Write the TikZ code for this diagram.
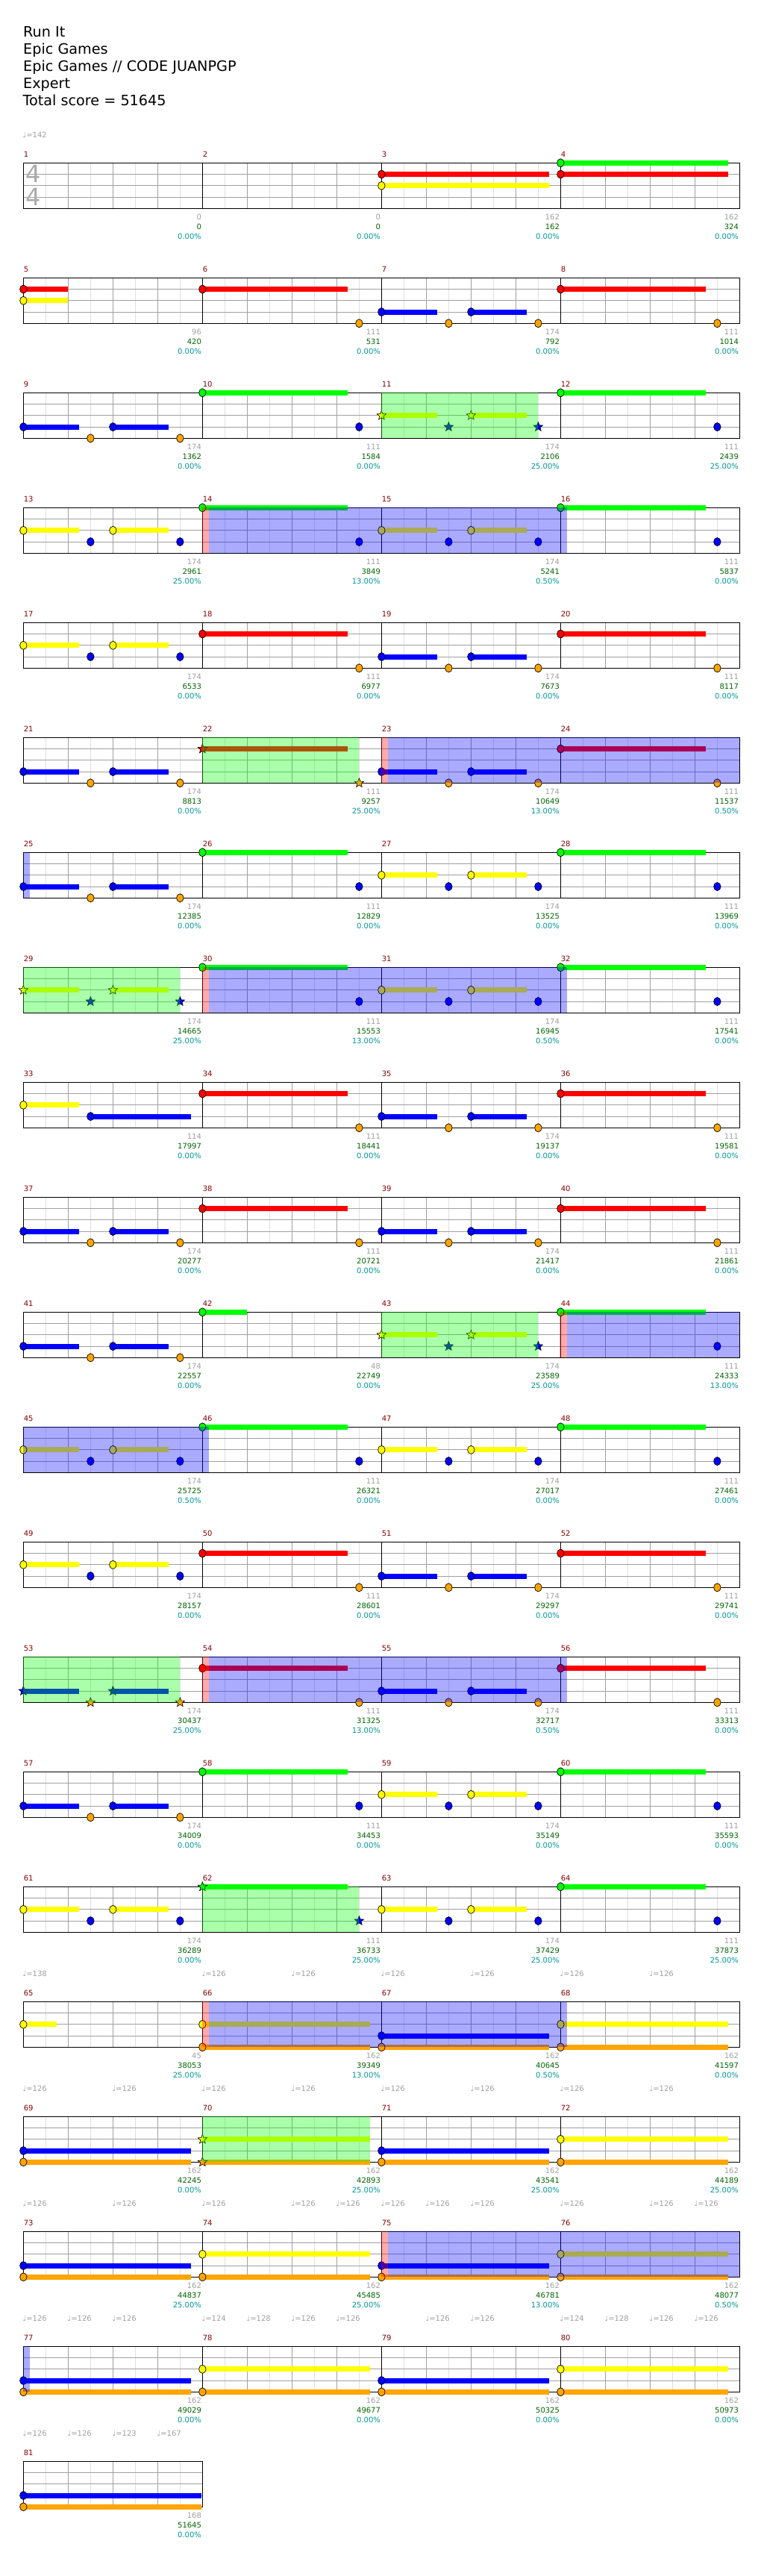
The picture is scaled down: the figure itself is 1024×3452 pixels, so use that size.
\documentclass[tikz,border=0pt]{standalone}
\usepackage{fontspec}
\setmainfont{DejaVu Sans}
\usetikzlibrary{shapes.geometric}
\definecolor{cG}{RGB}{0,255,0}
\definecolor{cR}{RGB}{255,0,0}
\definecolor{cY}{RGB}{255,255,0}
\definecolor{cB}{RGB}{0,0,255}
\definecolor{cO}{RGB}{255,165,0}
\definecolor{cLight}{RGB}{224,224,224}
\definecolor{cMid}{RGB}{160,160,160}
\definecolor{cGr}{RGB}{160,160,160}
\definecolor{cSc}{RGB}{0,100,0}
\definecolor{cPc}{RGB}{0,150,150}
\definecolor{cNum}{RGB}{139,0,0}
\definecolor{cTS}{RGB}{170,170,170}
\newcount\starcnt
\newcommand\MSet[1]{%
 \pgfmathtruncatemacro\mr{(#1-1)/4}%
 \pgfmathtruncatemacro\mc{#1-1-4*\mr}%
 \pgfmathsetmacro\mX{31.35+\mc*240}%
 \pgfmathsetmacro\mT{218.3+\mr*154}}
\newcommand\LaneCol[1]{\ifcase#1\relax\def\nc{cG}\or\def\nc{cR}\or\def\nc{cY}\or\def\nc{cB}\or\def\nc{cO}\fi}
% note: measure, lane, beat, sustain
\newcommand\Nt[4]{%
 \MSet{#1}\LaneCol{#2}%
 \pgfmathsetmacro\nx{\mX+#3*60}%
 \pgfmathsetmacro\ny{\mT+#2*15.25}%
 \ifdim#4pt>0pt \fill[\nc] (\nx,\ny-3.5) rectangle ++(#4*60,7);\fi
 \draw[fill=\nc,line width=0.7] (\nx,\ny) ellipse[x radius=4.75,y radius=5.5];}
\newcommand\St[4]{%
 \MSet{#1}\LaneCol{#2}%
 \pgfmathsetmacro\nx{\mX+#3*60}%
 \pgfmathsetmacro\ny{\mT+#2*15.25}%
 \ifdim#4pt>0pt \fill[\nc] (\nx,\ny-3.5) rectangle ++(#4*60,7);\fi
 \global\advance\starcnt by 1
 \node[spnote,fill=\nc] (star\the\starcnt) at (\nx,\ny) {};}
\newcommand\pBO[2]{#1{#2}{3}{0}{1.24}#1{#2}{4}{1.5}{0}#1{#2}{3}{2}{1.24}#1{#2}{4}{3.5}{0}}
\newcommand\pYB[2]{#1{#2}{2}{0}{1.24}#1{#2}{3}{1.5}{0}#1{#2}{2}{2}{1.24}#1{#2}{3}{3.5}{0}}
\newcommand\pG[2]{#1{#2}{0}{0}{3.25}#1{#2}{3}{3.5}{0}}
\newcommand\pR[2]{#1{#2}{1}{0}{3.25}#1{#2}{4}{3.5}{0}}
\newcommand\pL[3]{#1{#2}{#3}{0}{3.74}#1{#2}{4}{0}{3.74}}
\newcommand\Ov[5]{\MSet{#2}\pgfmathsetmacro\xa{\mX+#3*60}\MSet{#4}\pgfmathsetmacro\xb{\mX+#5*60}%
 \fill[#1,fill opacity=0.3333] (\xa,\mT) rectangle (\xb,\mT+61);}
\newcommand\Lab[4]{\MSet{#1}\pgfmathsetmacro\xe{\mX+238.8}%
 \node[lbl,text=cGr,anchor=base east] (lg#1) at (\xe,\mT+76.35) {#2};
 \node[lbl,text=cSc,anchor=base east] (ls#1) at (\xe,\mT+89.35) {#3};
 \node[lbl,text=cPc,anchor=base east] (lp#1) at (\xe,\mT+102.35) {#4\%};}
\newcommand\Tmp[3]{\MSet{#1}\pgfmathsetmacro\xt{\mX+#2*60-1}%
 \node[lbl,text=cGr,anchor=base west] (tm#1x#2) at (\xt,\mT-33.7) {♩=#3};}
\newcommand\MNum[1]{\MSet{#1}\node[lbl,text=cNum,anchor=base west] (mn#1) at (\mX+0.3,\mT-8.05) {#1};}
\newcommand\Staff[2]{%
 \pgfmathsetmacro\sT{218.3+#1*154}%
 \pgfmathsetmacro\sB{\sT+61}%
 \pgfmathsetmacro\sE{31.35+#2*240}%
 \pgfmathtruncatemacro\nm{#2-1}%
 \foreach \j in {0,...,\nm}{\foreach \q in {1,3,5,7}{\draw[cLight,line width=0.8] ({31.35+\j*240+\q*30},\sT) -- ++(0,61);}}%
 \foreach \j in {0,...,\nm}{\foreach \q in {2,4,6}{\draw[cMid,line width=0.8] ({31.35+\j*240+\q*30},\sT) -- ++(0,61);}}%
 \foreach \h in {1,2,3}{\draw[cMid,line width=0.8] (31.35,{\sT+\h*15.25}) -- (\sE,{\sT+\h*15.25});}%
 \foreach \j in {0,...,\nm}{\draw[black,line width=0.8] ({31.35+\j*240},\sT) -- ++(0,61);}%
 \draw[black,line width=1] (31.35,\sT) rectangle (\sE,\sB);}
\begin{document}
\begin{tikzpicture}[x=1pt,y=-1pt,
 lbl/.style={inner sep=0,font=\fontsize{10}{12}\selectfont},
 ttl/.style={inner sep=0,anchor=base west,font=\fontsize{19.2}{23}\selectfont},
 spnote/.style={star,star points=5,star point ratio=2.3,minimum size=13pt,inner sep=0,draw=black,line width=0.6}]
\useasboundingbox[fill=white] (0,0) rectangle (1024,3452);
% title
\node[ttl] (t1) at (31,49.3) {Run It};
\node[ttl] (t2) at (31,72.3) {Epic Games};
\node[ttl] (t3) at (31,95.3) {Epic Games // CODE JUANPGP};
\node[ttl] (t4) at (31,118.3) {Expert};
\node[ttl] (t5) at (30.5,141.3) {Total score = 51645};
% staves
\foreach \r in {0,...,19}{\Staff{\r}{4}}
\Staff{20}{1}
\node[inner sep=0,text=cTS,font=\fontsize{32}{32}\selectfont] (ts1) at (44.5,233.3) {4};
\node[inner sep=0,text=cTS,font=\fontsize{32}{32}\selectfont] (ts2) at (44.5,263.5) {4};
% notes
\Nt{3}{1}{0}{3.74}\Nt{3}{2}{0}{3.74}
\Nt{4}{0}{0}{3.74}\Nt{4}{1}{0}{3.74}
\Nt{5}{1}{0}{1}\Nt{5}{2}{0}{1}
\pR\Nt{6}\pBO\Nt{7}\pR\Nt{8}
\pBO\Nt{9}\pG\Nt{10}\pYB\St{11}\pG\Nt{12}
\pYB\Nt{13}\pG\Nt{14}\pYB\Nt{15}\pG\Nt{16}
\pYB\Nt{17}\pR\Nt{18}\pBO\Nt{19}\pR\Nt{20}
\pBO\Nt{21}\pR\St{22}\pBO\Nt{23}\pR\Nt{24}
\pBO\Nt{25}\pG\Nt{26}\pYB\Nt{27}\pG\Nt{28}
\pYB\St{29}\pG\Nt{30}\pYB\Nt{31}\pG\Nt{32}
\Nt{33}{2}{0}{1.24}\Nt{33}{3}{1.5}{2.24}\pR\Nt{34}\pBO\Nt{35}\pR\Nt{36}
\pBO\Nt{37}\pR\Nt{38}\pBO\Nt{39}\pR\Nt{40}
\pBO\Nt{41}\Nt{42}{0}{0}{1}\pYB\St{43}\pG\Nt{44}
\pYB\Nt{45}\pG\Nt{46}\pYB\Nt{47}\pG\Nt{48}
\pYB\Nt{49}\pR\Nt{50}\pBO\Nt{51}\pR\Nt{52}
\pBO\St{53}\pR\Nt{54}\pBO\Nt{55}\pR\Nt{56}
\pBO\Nt{57}\pG\Nt{58}\pYB\Nt{59}\pG\Nt{60}
\pYB\Nt{61}\pG\St{62}\pYB\Nt{63}\pG\Nt{64}
\Nt{65}{2}{0}{0.74}\pL\Nt{66}{2}\pL\Nt{67}{3}\pL\Nt{68}{2}
\pL\Nt{69}{3}\pL\St{70}{2}\pL\Nt{71}{3}\pL\Nt{72}{2}
\pL\Nt{73}{3}\pL\Nt{74}{2}\pL\Nt{75}{3}\pL\Nt{76}{2}
\pL\Nt{77}{3}\pL\Nt{78}{2}\pL\Nt{79}{3}\pL\Nt{80}{2}
\Nt{81}{3}{0}{3.97}\Nt{81}{4}{0}{3.97}
% overlays
\Ov{cG}{11}{0}{11}{3.5}
\Ov{cR}{14}{0}{14}{0.15}\Ov{cB}{14}{0.15}{16}{0.14}
\Ov{cG}{22}{0}{22}{3.5}
\Ov{cR}{23}{0}{23}{0.15}\Ov{cB}{23}{0.15}{24}{4}\Ov{cB}{25}{0}{25}{0.14}
\Ov{cG}{29}{0}{29}{3.5}
\Ov{cR}{30}{0}{30}{0.15}\Ov{cB}{30}{0.15}{32}{0.14}
\Ov{cG}{43}{0}{43}{3.5}
\Ov{cR}{44}{-0.02}{44}{0.15}\Ov{cB}{44}{0.15}{44}{4}\Ov{cB}{45}{0}{46}{0.14}
\Ov{cG}{53}{0}{53}{3.5}
\Ov{cR}{54}{0}{54}{0.15}\Ov{cB}{54}{0.15}{56}{0.14}
\Ov{cG}{62}{0}{62}{3.5}
\Ov{cR}{66}{0}{66}{0.15}\Ov{cB}{66}{0.15}{68}{0.14}
\Ov{cG}{70}{0}{70}{3.74}
\Ov{cR}{75}{0}{75}{0.15}\Ov{cB}{75}{0.15}{76}{4}\Ov{cB}{77}{0}{77}{0.14}
% measure numbers
\foreach \m in {1,...,81}{\MNum{\m}}
% labels
\Lab{1}{0}{0}{0.00}\Lab{2}{0}{0}{0.00}\Lab{3}{162}{162}{0.00}\Lab{4}{162}{324}{0.00}
\Lab{5}{96}{420}{0.00}\Lab{6}{111}{531}{0.00}\Lab{7}{174}{792}{0.00}\Lab{8}{111}{1014}{0.00}
\Lab{9}{174}{1362}{0.00}\Lab{10}{111}{1584}{0.00}\Lab{11}{174}{2106}{25.00}\Lab{12}{111}{2439}{25.00}
\Lab{13}{174}{2961}{25.00}\Lab{14}{111}{3849}{13.00}\Lab{15}{174}{5241}{0.50}\Lab{16}{111}{5837}{0.00}
\Lab{17}{174}{6533}{0.00}\Lab{18}{111}{6977}{0.00}\Lab{19}{174}{7673}{0.00}\Lab{20}{111}{8117}{0.00}
\Lab{21}{174}{8813}{0.00}\Lab{22}{111}{9257}{25.00}\Lab{23}{174}{10649}{13.00}\Lab{24}{111}{11537}{0.50}
\Lab{25}{174}{12385}{0.00}\Lab{26}{111}{12829}{0.00}\Lab{27}{174}{13525}{0.00}\Lab{28}{111}{13969}{0.00}
\Lab{29}{174}{14665}{25.00}\Lab{30}{111}{15553}{13.00}\Lab{31}{174}{16945}{0.50}\Lab{32}{111}{17541}{0.00}
\Lab{33}{114}{17997}{0.00}\Lab{34}{111}{18441}{0.00}\Lab{35}{174}{19137}{0.00}\Lab{36}{111}{19581}{0.00}
\Lab{37}{174}{20277}{0.00}\Lab{38}{111}{20721}{0.00}\Lab{39}{174}{21417}{0.00}\Lab{40}{111}{21861}{0.00}
\Lab{41}{174}{22557}{0.00}\Lab{42}{48}{22749}{0.00}\Lab{43}{174}{23589}{25.00}\Lab{44}{111}{24333}{13.00}
\Lab{45}{174}{25725}{0.50}\Lab{46}{111}{26321}{0.00}\Lab{47}{174}{27017}{0.00}\Lab{48}{111}{27461}{0.00}
\Lab{49}{174}{28157}{0.00}\Lab{50}{111}{28601}{0.00}\Lab{51}{174}{29297}{0.00}\Lab{52}{111}{29741}{0.00}
\Lab{53}{174}{30437}{25.00}\Lab{54}{111}{31325}{13.00}\Lab{55}{174}{32717}{0.50}\Lab{56}{111}{33313}{0.00}
\Lab{57}{174}{34009}{0.00}\Lab{58}{111}{34453}{0.00}\Lab{59}{174}{35149}{0.00}\Lab{60}{111}{35593}{0.00}
\Lab{61}{174}{36289}{0.00}\Lab{62}{111}{36733}{25.00}\Lab{63}{174}{37429}{25.00}\Lab{64}{111}{37873}{25.00}
\Lab{65}{45}{38053}{25.00}\Lab{66}{162}{39349}{13.00}\Lab{67}{162}{40645}{0.50}\Lab{68}{162}{41597}{0.00}
\Lab{69}{162}{42245}{0.00}\Lab{70}{162}{42893}{25.00}\Lab{71}{162}{43541}{25.00}\Lab{72}{162}{44189}{25.00}
\Lab{73}{162}{44837}{25.00}\Lab{74}{162}{45485}{25.00}\Lab{75}{162}{46781}{13.00}\Lab{76}{162}{48077}{0.50}
\Lab{77}{162}{49029}{0.00}\Lab{78}{162}{49677}{0.00}\Lab{79}{162}{50325}{0.00}\Lab{80}{162}{50973}{0.00}
\Lab{81}{168}{51645}{0.00}
% tempos
\Tmp{1}{0}{142}
\Tmp{65}{0}{138}\Tmp{66}{0}{126}\Tmp{66}{2}{126}\Tmp{67}{0}{126}\Tmp{67}{2}{126}\Tmp{68}{0}{126}\Tmp{68}{2}{126}
\Tmp{69}{0}{126}\Tmp{69}{2}{126}\Tmp{70}{0}{126}\Tmp{70}{2}{126}\Tmp{71}{0}{126}\Tmp{71}{2}{126}\Tmp{72}{0}{126}\Tmp{72}{2}{126}
\Tmp{73}{0}{126}\Tmp{73}{2}{126}\Tmp{74}{0}{126}\Tmp{74}{2}{126}\Tmp{74}{3}{126}\Tmp{75}{0}{126}\Tmp{75}{1}{126}\Tmp{75}{2}{126}\Tmp{76}{0}{126}\Tmp{76}{2}{126}\Tmp{76}{3}{126}
\Tmp{77}{0}{126}\Tmp{77}{1}{126}\Tmp{77}{2}{126}\Tmp{78}{0}{124}\Tmp{78}{1}{128}\Tmp{78}{2}{126}\Tmp{78}{3}{126}\Tmp{79}{1}{126}\Tmp{79}{2}{126}\Tmp{80}{0}{124}\Tmp{80}{1}{128}\Tmp{80}{2}{126}\Tmp{80}{3}{126}
\Tmp{81}{0}{126}\Tmp{81}{1}{126}\Tmp{81}{2}{123}\Tmp{81}{3}{167}
\end{tikzpicture}
\end{document}
